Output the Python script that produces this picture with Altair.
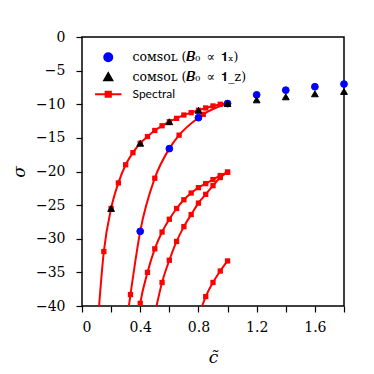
import altair as alt
import pandas as pd

# ---- COMSOL results -------------------------------------------------------
comsol_x_c = [0.4, 0.6, 0.8, 1.0, 1.2, 1.4, 1.6, 1.8]
comsol_x_s = [-28.9, -16.6, -12.0, -9.9, -8.6, -7.9, -7.4, -7.0]
comsol_z_c = [0.2, 0.4, 0.6, 0.8, 1.0, 1.2, 1.4, 1.6, 1.8]
comsol_z_s = [-25.5, -15.8, -12.6, -10.9, -9.9, -9.35, -8.9, -8.45, -8.1]

# ---- Spectral branches (m = 1 where a square marker is drawn) -------------
spec_a_c = [0.10, 0.15, 0.20, 0.25, 0.30, 0.35, 0.40, 0.45, 0.50, 0.55, 0.60,
            0.65, 0.70, 0.75, 0.80, 0.85, 0.90, 0.95, 1.00]
spec_a_s = [-45.0, -31.9, -25.5, -21.7, -19.0, -17.2, -15.8, -14.8, -13.9, -13.2,
            -12.6, -12.1, -11.6, -11.25, -10.9, -10.55, -10.25, -10.0, -9.85]
spec_a_m = [0, 1, 1, 1, 1, 1, 1, 1, 1, 1, 1, 1, 1, 1, 1, 1, 1, 1, 1]

spec_b_c = [0.30, 0.333, 0.40, 0.50, 0.60, 0.667, 0.80, 0.833, 1.00]
spec_b_s = [-43.5, -38.3, -28.9, -21.0, -16.6, -14.6, -12.0, -11.5, -9.85]
spec_b_m = [0, 1, 0, 1, 0, 1, 0, 1, 1]

spec_c_c = [0.35, 0.40, 0.45, 0.50, 0.55, 0.60, 0.65, 0.70, 0.75, 0.80, 0.85,
            0.90, 0.95, 1.00]
spec_c_s = [-48.0, -39.6, -35.0, -31.5, -29.0, -27.1, -25.5, -24.2, -23.2, -22.4,
            -21.8, -21.2, -20.6, -20.1]
spec_c_m = [0, 1, 1, 1, 1, 1, 1, 1, 1, 1, 1, 1, 1, 1]

spec_d_c = [0.50, 0.55, 0.60, 0.65, 0.70, 0.75, 0.80, 0.85, 0.90, 0.95, 1.00]
spec_d_s = [-41.2, -36.5, -33.2, -30.4, -28.2, -26.4, -24.7, -23.4, -22.1, -20.9,
            -20.1]
spec_d_m = [1, 1, 1, 1, 1, 1, 1, 1, 1, 1, 1]

spec_e_c = [0.80, 0.85, 0.90, 0.95, 1.00]
spec_e_s = [-41.6, -38.6, -36.5, -34.8, -33.3]
spec_e_m = [0, 1, 1, 1, 1]

x_ticks = [0, 0.2, 0.4, 0.6, 0.8, 1.0, 1.2, 1.4, 1.6, 1.8]
y_ticks = [-40, -35, -30, -25, -20, -15, -10, -5, 0]

LBL_X = "ᴄᴏᴍꜱᴏʟ (𝑩₀\u2002∝\u2002𝟏ₓ)"
LBL_Z = "ᴄᴏᴍꜱᴏʟ (𝑩₀\u2002∝\u2002𝟏_z)"
LBL_S = "Spectral"
legend_domain = [LBL_X, LBL_Z, LBL_S]
legend_colors = ["#0000ff", "#000000", "#ff0000"]
legend_shapes = ["circle", "triangle-up",
                 "M-3.3,0H3.3M-0.65,-0.65H0.65V0.65H-0.65Z"]

# ---- tables ---------------------------------------------------------------
rows = []
for name, cs, ss, ms in [("a", spec_a_c, spec_a_s, spec_a_m),
                         ("b", spec_b_c, spec_b_s, spec_b_m),
                         ("c", spec_c_c, spec_c_s, spec_c_m),
                         ("d", spec_d_c, spec_d_s, spec_d_m),
                         ("e", spec_e_c, spec_e_s, spec_e_m)]:
    for c, s, m in zip(cs, ss, ms):
        rows.append({"branch": name, "c": c, "s": s, "m": m})
spec = pd.DataFrame(rows)

comsol = pd.DataFrame(
    [{"series": LBL_X, "c": c, "s": s} for c, s in zip(comsol_x_c, comsol_x_s)]
    + [{"series": LBL_Z, "c": c, "s": s} for c, s in zip(comsol_z_c, comsol_z_s)]
)

SERIF = "DejaVu Serif"

xscale = alt.Scale(domain=[0, 1.8], nice=False, zero=False)
yscale = alt.Scale(domain=[-40, 0], nice=False, zero=False)

x_enc = alt.X(
    "c:Q", scale=xscale,
    axis=alt.Axis(
        values=x_ticks, title="c̃",
        labelExpr="(round(datum.value*10) % 4 == 0) ? (datum.value == 0 ? '0' : format(datum.value, '.1f')) : ''",
        titleY=51, titleBaseline="middle", titleFontStyle="italic",
    ),
)
y_enc = alt.Y(
    "s:Q", scale=yscale,
    axis=alt.Axis(values=y_ticks, title="σ", titleX=-63, titleBaseline="middle",
                  titleFontStyle="italic"),
)

lines = alt.Chart(spec).mark_line(
    color="#ff0000", strokeWidth=2, clip=True, interpolate="monotone"
).encode(x=x_enc, y=y_enc, detail="branch:N", order="c:Q")

squares = alt.Chart(spec).transform_filter("datum.m == 1").mark_point(
    shape="square", filled=True, color="#ff0000", size=28, opacity=1, clip=True
).encode(x=x_enc, y=y_enc)

leg = alt.Legend(
    orient="none", legendX=20, legendY=14, title=None, padding=0,
    labelFont=alt.ExprRef(expr="datum.value == 'Spectral' ? 'Lato' : 'DejaVu Serif'"),
    labelFontSize=alt.ExprRef(expr="datum.value == 'Spectral' ? 12 : 12.5"),
    labelColor="#000000", symbolSize=64, symbolStrokeWidth=2,
    rowPadding=2.5, labelOffset=18, symbolOpacity=1, labelLimit=300,
)

points = alt.Chart(comsol).mark_point(
    filled=True, size=46, strokeWidth=1, opacity=1
).encode(
    x=x_enc, y=y_enc,
    fill=alt.Fill("series:N", scale=alt.Scale(domain=legend_domain, range=legend_colors), legend=leg),
    stroke=alt.Stroke("series:N", scale=alt.Scale(domain=legend_domain, range=legend_colors), legend=leg),
    shape=alt.Shape("series:N", scale=alt.Scale(domain=legend_domain, range=legend_shapes), legend=leg),
)

chart = alt.layer(lines, squares, points).properties(
    width=262, height=269,
    autosize=alt.AutoSizeParams(type="none"),
    padding={"left": 74, "top": 29, "right": 20, "bottom": 60},
).configure_view(
    stroke="#000000", strokeWidth=1.5
).configure_axis(
    grid=False, domain=False, tickColor="#000000", tickWidth=1.2, tickSize=6,
    labelFont=SERIF, labelFontSize=14, labelColor="#000000", labelPadding=8,
    titleFont=SERIF, titleFontSize=17, titleColor="#000000", titleFontWeight="normal",
).configure_axisY(labelPadding=11)

chart.save("out.html", embed_options={"renderer": "svg", "actions": False})
